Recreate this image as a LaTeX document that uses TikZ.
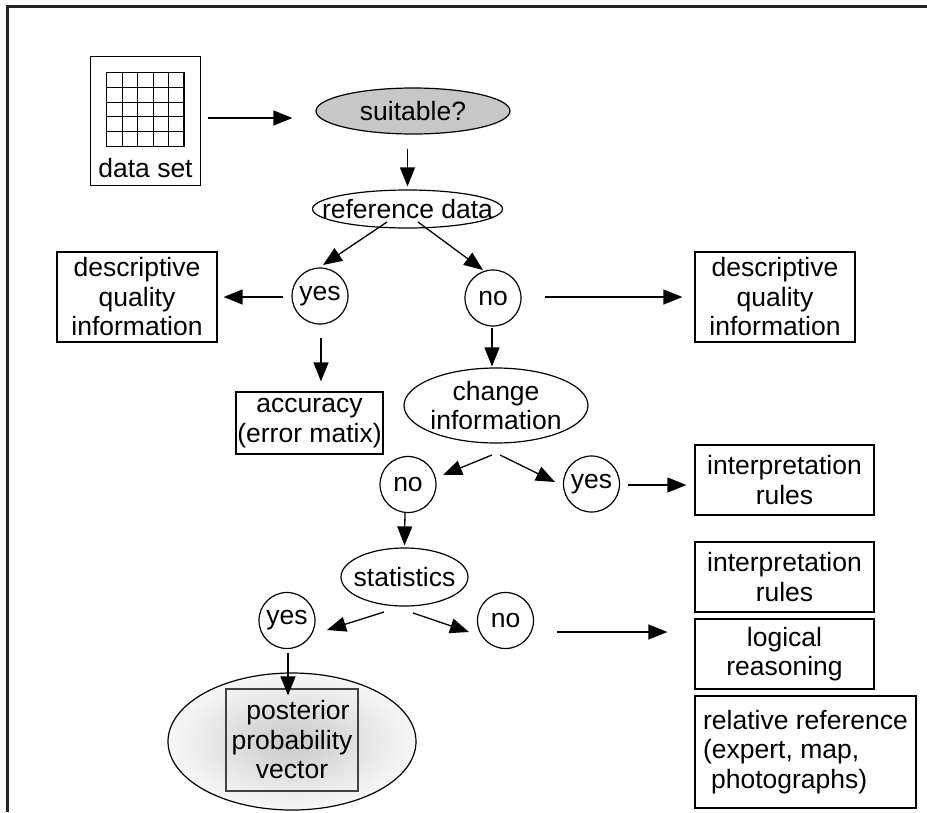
\documentclass[tikz,border=0pt]{standalone}
\usepackage{fontspec}
\setmainfont{Liberation Sans}
\usetikzlibrary{arrows.meta,calc,shapes.geometric}

\begin{document}
\begin{tikzpicture}[x=1pt,y=-1pt,
  every node/.style={font=\fontsize{26.5}{29.5}\selectfont, inner sep=0pt, align=center},
  box/.style={draw, line width=1.2pt, rectangle},
  oval/.style={draw, line width=1.2pt, ellipse},
  dot/.style={draw, line width=1.2pt, circle, minimum size=56pt},
  arr/.style={line width=1.3pt, -{Triangle[length=19pt,width=15pt]}},
]
\useasboundingbox (0,0) rectangle (927,812);

% frame
\draw[line width=2.2pt, black!85] (7.5,812) -- (7.5,6.5) -- (927,6.5);

% data set with its grid
\node[box, minimum width=110pt, minimum height=129pt] (ds) at (145.5,121) {};
\foreach \i in {0,...,5} {
  \draw[line width=1.1pt] (106.7+\i*15.46,72.3) -- (106.7+\i*15.46,146.7);
  \draw[line width=1.1pt] (106.7,72.3+\i*14.88) -- (184,72.3+\i*14.88);
}
\node (dslabel) at ($(ds.south)+(0,-18)$) {data set};

% decision ovals
\node[oval, fill=black!22, minimum width=194pt, minimum height=46pt,
      label={center:suitable?}] (suit) at (413,111) {};
\node[oval, minimum width=190pt, minimum height=38pt,
      label={center:reference data}] (ref) at (407.5,209) {};
\node[oval, minimum width=184pt, minimum height=75pt,
      label={[align=center]center:{change\\information}}] (chg) at (496,405.5) {};
\node[oval, minimum width=127pt, minimum height=58pt,
      label={center:statistics}] (stat) at (404.5,577) {};

% yes / no circles
\node[dot] (yes1) at (320,296) {yes};
\node[dot] (no1) at (493,298) {no};
\node[dot] (no2) at (408,484.5) {no};
\node[dot] (yes2) at (591.5,484) {yes};
\node[dot] (yes3) at (287,620.5) {yes};
\node[dot] (no3) at (505.5,620.5) {no};

% result boxes
\node[box, minimum width=160pt, minimum height=90pt] (descL) at (137,297) {descriptive\\quality\\information};
\node[box, minimum width=160pt, minimum height=90pt] (descR) at (775,297) {descriptive\\quality\\information};
\node[box, minimum width=147pt, minimum height=62pt] (acc) at (309.5,423) {accuracy\\(error matix)};
\node[box, minimum width=179pt, minimum height=70pt] (irules1) at (784.5,480) {interpretation\\rules};
\node[box, minimum width=179pt, minimum height=70pt] (irules2) at (784.5,577) {interpretation\\rules};
\node[box, minimum width=179pt, minimum height=70pt] (logic) at (784.5,654) {logical\\reasoning};
\node[box, minimum width=221pt, minimum height=112pt, align=left] (relref) at (805.5,752)
  {relative reference\\(expert, map,\\\hspace*{8pt}photographs)};

% posterior probability vector
\node[oval, shade, inner color=black!21, outer color=black!3, minimum width=248pt,
      minimum height=137pt] (pv) at (292,741.5) {};
\node[box, draw=black!75, minimum width=132pt, minimum height=102pt] (post) at (292,740)
  {\hspace*{12pt}posterior\\probability\\vector};

% connectors
\draw[arr] ($(ds.east)+(7,-3)$) -- ($(suit.west)+(-23,7)$);
\draw[arr] ($(suit.south)+(-5.5,14)$) -- ($(ref.north)+(0,-3)$);
\draw[arr] ($(ref)+(-20.5,13)$) -- ($(yes1)+(3,-31)$);
\draw[arr] ($(ref)+(10.5,13)$) -- ($(no1)+(-10,-28)$);
\draw[arr] ($(yes1)+(-37,1)$) -- ($(descL.east)+(6,0)$);
\draw[arr] ($(yes1)+(1,42)$) -- ($(acc.north)+(11.5,-10)$);
\draw[arr] ($(no1)+(52,-1)$) -- ($(descR.west)+(-12,0)$);
\draw[arr] ($(no1)+(-1,30)$) -- ($(chg.north)+(-4,-1)$);
\draw[arr] ($(chg)+(-4,49.5)$) -- ($(no2)+(35,-9.5)$);
\draw[arr] ($(chg)+(4,49.5)$) -- ($(yes2)+(-36.5,-2)$);
\draw[arr] ($(yes2)+(36.5,1)$) -- ($(irules1.west)+(-8,5)$);
\draw[arr] ($(no2)+(-3,27.5)$) -- ($(stat.north)+(0,-2)$);
\draw[arr] ($(stat)+(-20.5,35)$) -- ($(yes3)+(40,9.5)$);
\draw[arr] ($(stat)+(8.5,36)$) -- ($(no3)+(-36.5,11.5)$);
\draw[arr] ($(no3)+(51.5,11.5)$) -- ($(logic.west)+(-27,-22)$);
\draw[arr] ($(yes3)+(1,32.5)$) -- ($(post.north)+(-4,7)$);
\end{tikzpicture}
\end{document}
